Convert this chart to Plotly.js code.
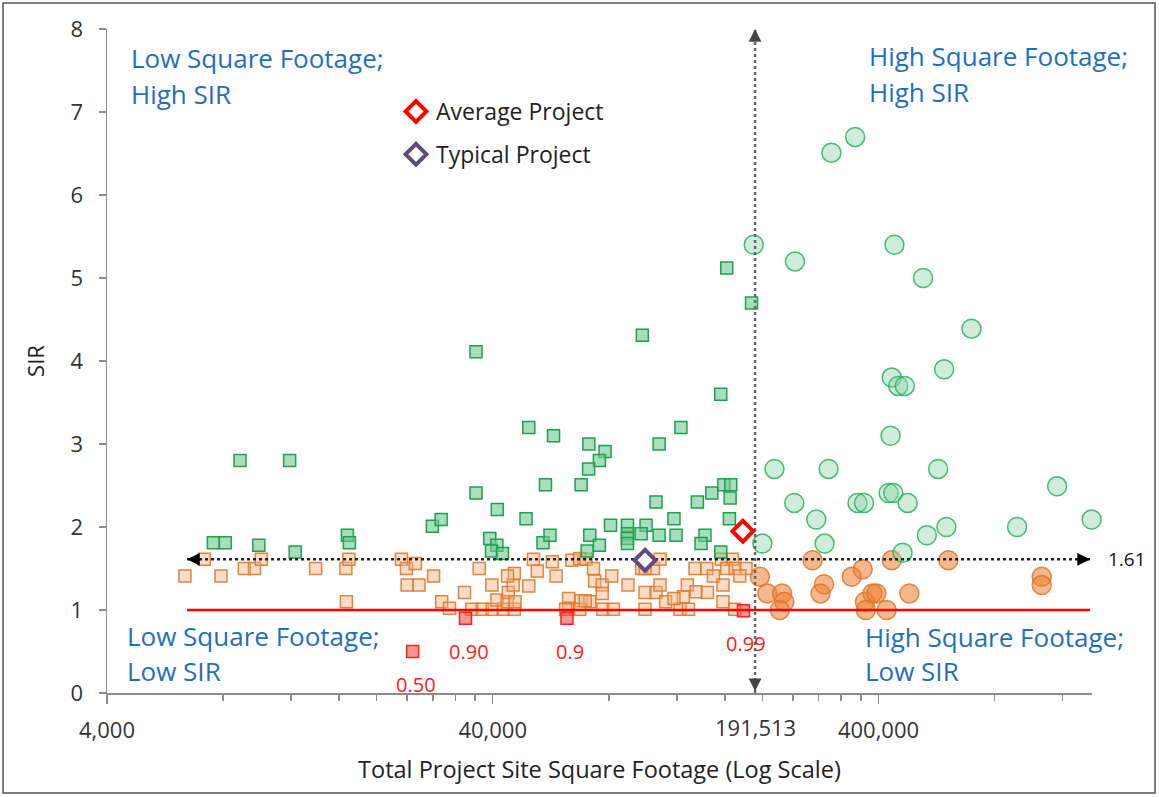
<!DOCTYPE html>
<html>
<head>
<meta charset="utf-8">
<script src="https://cdn.plot.ly/plotly-3.0.1.min.js"></script>
<style>
html,body{margin:0;padding:0;background:#fff;}
#chart{width:1159px;height:797px;}
</style>
</head>
<body>
<div id="chart"></div>
<script>
// ---------- DATA ----------
const sqftThreshold = 191513;   // vertical divider (sq ft)
const sirThreshold = 1.61;      // horizontal divider (SIR)
const sirBreakEven = 1.0;       // red line
const refLineExtent = [6450, 1415000];

// Low sq ft, high SIR (green squares)
const greenSqX = [8850, 11900, 7550, 8100, 9900, 12300, 16800, 17000, 27900, 29400,
  36200, 97700, 187500, 156000, 49600, 57500, 123000, 108000, 71000, 78200,
  75600, 70900, 36200, 54800, 67800, 41100, 48800, 39300, 41000, 39700,
  42400, 54000, 56300, 71400, 75600, 70300, 80800, 89400, 89400, 89400,
  89400, 99900, 97000, 108000, 106000, 118000, 119500, 135700, 147900, 159000,
  165600, 165000, 164300, 142000, 138700, 156000, 161700];
const greenSqY = [2.80, 2.80, 1.81, 1.81, 1.78, 1.70, 1.90, 1.81, 2.01, 2.09,
  4.11, 4.31, 4.70, 3.60, 3.20, 3.10, 3.20, 3.00, 3.00, 2.91,
  2.80, 2.70, 2.41, 2.51, 2.51, 2.21, 2.10, 1.86, 1.78, 1.71,
  1.68, 1.81, 1.90, 1.90, 1.78, 1.71, 2.02, 2.02, 1.92, 1.86,
  1.80, 2.02, 1.92, 1.90, 2.30, 2.10, 1.90, 2.30, 2.41, 2.51,
  2.51, 2.35, 2.10, 1.90, 1.80, 1.70, 5.12];

// Low sq ft, SIR between 1 and 1.61 (orange squares)
const orangeSqX = [6370, 7150, 7900, 9080, 9650, 10050, 13900, 16650, 16950, 16700,
  23200, 23900, 25200, 24000, 25750, 28100, 29500, 30900, 35300, 37600,
  39900, 42600, 45500, 33800, 36900, 39800, 41000, 43600, 43900, 45200,
  45500, 43700, 45700, 49600, 52200, 51000, 57100, 58400, 62900, 62900,
  64200, 67200, 69800, 67800, 71400, 67200, 73000, 73500, 76900, 76900,
  77200, 82200, 81400, 89700, 99300, 99300, 106000, 108600, 112300, 97300,
  104400, 108600, 124800, 127800, 134600, 122400, 128700, 133800, 143500, 149300,
  144100, 158100, 158100, 156500, 167200, 161700, 170000, 181400, 174800, 169600,
  69500, 61800, 99300, 118000];
const orangeSqY = [1.41, 1.61, 1.41, 1.50, 1.50, 1.61, 1.50, 1.50, 1.61, 1.10,
  1.61, 1.50, 1.56, 1.30, 1.30, 1.41, 1.10, 1.02, 1.01, 1.01,
  1.01, 1.01, 1.01, 1.21, 1.50, 1.30, 1.12, 1.10, 1.21, 1.30,
  1.44, 1.41, 1.10, 1.29, 1.47, 1.61, 1.58, 1.41, 1.14, 1.02,
  1.60, 1.62, 1.61, 1.11, 1.10, 1.01, 1.50, 1.35, 1.30, 1.20,
  1.01, 1.01, 1.41, 1.30, 1.01, 1.21, 1.21, 1.30, 1.10, 1.50,
  1.50, 1.61, 1.16, 1.30, 1.22, 1.01, 1.01, 1.50, 1.50, 1.41,
  1.21, 1.30, 1.10, 1.61, 1.61, 1.50, 1.50, 1.50, 1.41, 1.01,
  1.11, 1.01, 1.50, 1.14];

// SIR below 1 (red squares)
const redSqX = [24800, 34000, 62300, 178700];
const redSqY = [0.50, 0.90, 0.90, 0.99];
const redSqLabels = ['0.50', '0.90', '0.9', '0.99'];

// High sq ft, high SIR (green circles)
const greenCircX = [348000, 302000, 190000, 440000, 243000, 522000, 697000, 592000, 433000, 450000,
  468000, 430000, 215000, 297000, 571000, 1162000, 242000, 353000, 367000, 425000,
  437000, 476000, 276000, 600000, 915000, 1428000, 534000, 290000, 200000, 462000];
const greenCircY = [6.70, 6.51, 5.40, 5.40, 5.20, 5.00, 4.39, 3.90, 3.80, 3.70,
  3.70, 3.10, 2.70, 2.70, 2.70, 2.49, 2.29, 2.29, 2.29, 2.41,
  2.41, 2.29, 2.09, 2.00, 2.00, 2.09, 1.90, 1.80, 1.80, 1.69];

// High sq ft, lower SIR (orange circles)
const orangeCircX = [270000, 433000, 607000, 197000, 364000, 341000, 289000, 283000, 206000, 225000,
  228000, 222000, 369000, 386000, 395000, 371000, 420000, 481000, 1060000, 1060000];
const orangeCircY = [1.60, 1.60, 1.60, 1.40, 1.49, 1.40, 1.31, 1.20, 1.20, 1.20,
  1.10, 1.00, 1.10, 1.20, 1.20, 1.00, 1.00, 1.20, 1.40, 1.30];

// Reference projects
const averageProject = {x: 178000, y: 1.95};
const typicalProject = {x: 99300, y: 1.60};

// Axis ticks
const xTickVals = [4000, 40000, 400000];
const xTickText = ['4,000', '40,000', '400,000'];
const xMinorVals = [8000, 12000, 16000, 20000, 24000, 28000, 32000, 36000,
  80000, 120000, 160000, 200000, 240000, 280000, 320000, 360000, 800000, 1200000];
const xRange = [4000, 1431000];
const yRange = [0, 8];

// ---------- STYLE ----------
const FONT = 'Open Sans, Noto Sans, sans-serif';
const BLUE = '#1F6FC0';
const AXIS = '#8c8c8c';
const lg = v => Math.log10(v);

const baseMarkerTrace = {type: 'scatter', mode: 'markers', showlegend: false, hoverinfo: 'skip', cliponaxis: false};

const traces = [
  Object.assign({}, baseMarkerTrace, {
    x: orangeCircX, y: orangeCircY,
    marker: {symbol: 'circle', size: 19, color: 'rgba(237,125,49,0.55)', line: {color: 'rgba(222,118,40,0.85)', width: 1.5}}
  }),
  Object.assign({}, baseMarkerTrace, {
    x: greenCircX, y: greenCircY,
    marker: {symbol: 'circle', size: 19, color: 'rgba(140,212,166,0.42)', line: {color: 'rgba(40,178,92,0.85)', width: 1.5}}
  }),
  Object.assign({}, baseMarkerTrace, {
    x: orangeSqX, y: orangeSqY,
    marker: {symbol: 'square', size: 12, color: 'rgba(244,177,131,0.45)', line: {color: 'rgba(222,122,45,0.9)', width: 1.5}}
  }),
  Object.assign({}, baseMarkerTrace, {
    x: greenSqX, y: greenSqY,
    marker: {symbol: 'square', size: 12, color: 'rgba(110,200,142,0.6)', line: {color: '#1fa050', width: 1.5}}
  }),
  Object.assign({}, baseMarkerTrace, {
    x: redSqX, y: redSqY,
    marker: {symbol: 'square', size: 12, color: 'rgba(245,80,70,0.6)', line: {color: '#ff1f1f', width: 1.5}}
  }),
  // break-even line SIR = 1
  {type: 'scatter', mode: 'lines', showlegend: false, hoverinfo: 'skip',
   x: refLineExtent, y: [sirBreakEven, sirBreakEven], line: {color: '#ff0000', width: 2.5}},
  // horizontal dotted divider
  {type: 'scatter', mode: 'lines', showlegend: false, hoverinfo: 'skip',
   x: refLineExtent, y: [sirThreshold, sirThreshold], line: {color: '#222', width: 2.5, dash: 'dot'}},
  // vertical dotted divider
  {type: 'scatter', mode: 'lines', showlegend: false, hoverinfo: 'skip', cliponaxis: false,
   x: [sqftThreshold, sqftThreshold], y: yRange, line: {color: '#666', width: 2.5, dash: 'dot'}},
  {type: 'scatter', mode: 'markers', name: 'Average Project', legendgroup: 'a', hoverinfo: 'skip', cliponaxis: false,
   x: [averageProject.x], y: [averageProject.y],
   marker: {symbol: 'diamond', size: 16, color: '#ffffff', line: {color: '#ff0000', width: 4}}},
  {type: 'scatter', mode: 'markers', name: 'Typical Project', legendgroup: 'b', hoverinfo: 'skip', cliponaxis: false,
   x: [typicalProject.x], y: [typicalProject.y],
   marker: {symbol: 'diamond', size: 16, color: '#ffffff', line: {color: '#604a7b', width: 4}}}
];

// ---------- ANNOTATIONS ----------
const W = 1159, H = 797, L = 107, R = 67, T = 29, B = 104;
const pw = W - L - R, ph = H - T - B;
const px = v => (v - L) / pw;       // page px -> paper x
const py = v => (H - B - v) / ph;   // page px -> paper y

function quadLabel(text, x, y) {
  return {xref: 'paper', yref: 'paper', x: px(x), y: py(y), xanchor: 'left', yanchor: 'middle',
    text: text, showarrow: false, font: {family: FONT, size: 26, color: BLUE}};
}

const annotations = [
  quadLabel('Low Square Footage;', 129, 58),
  quadLabel('High SIR', 129, 94),
  quadLabel('High Square Footage;', 867, 56),
  quadLabel('High SIR', 867, 92),
  quadLabel('Low Square Footage;', 125, 636),
  quadLabel('Low SIR', 125, 671),
  quadLabel('High Square Footage;', 863, 637),
  quadLabel('Low SIR', 863, 671),
  // threshold labels
  {xref: 'x', yref: 'paper', x: lg(sqftThreshold), y: py(727), text: '191,513', showarrow: false,
   xanchor: 'center', yanchor: 'middle', font: {family: FONT, size: 22, color: '#333'}},
  {xref: 'paper', yref: 'y', x: px(1106), y: sirThreshold, text: '1.61', showarrow: false,
   xanchor: 'left', yanchor: 'middle', font: {family: FONT, size: 19, color: '#111'}},
  // arrowheads
  {xref: 'x', yref: 'y', axref: 'x', ayref: 'y', x: lg(refLineExtent[0]), y: sirThreshold,
   ax: lg(refLineExtent[0]) + 0.03, ay: sirThreshold, showarrow: true, arrowhead: 2, arrowsize: 1.6, arrowwidth: 1.6, arrowcolor: '#000', text: ''},
  {xref: 'x', yref: 'y', axref: 'x', ayref: 'y', x: lg(refLineExtent[1]), y: sirThreshold,
   ax: lg(refLineExtent[1]) - 0.03, ay: sirThreshold, showarrow: true, arrowhead: 2, arrowsize: 1.6, arrowwidth: 1.6, arrowcolor: '#000', text: ''},
  {xref: 'x', yref: 'y', axref: 'x', ayref: 'y', x: lg(sqftThreshold), y: yRange[1],
   ax: lg(sqftThreshold), ay: yRange[1] - 0.15, showarrow: true, arrowhead: 2, arrowsize: 1.6, arrowwidth: 1.6, arrowcolor: '#444', text: ''},
  {xref: 'x', yref: 'y', axref: 'x', ayref: 'y', x: lg(sqftThreshold), y: yRange[0] + 0.02,
   ax: lg(sqftThreshold), ay: yRange[0] + 0.17, showarrow: true, arrowhead: 2, arrowsize: 1.6, arrowwidth: 1.6, arrowcolor: '#444', text: ''}
];
redSqLabels.forEach((t, i) => {
  annotations.push({xref: 'x', yref: 'y', x: lg(redSqX[i]), y: redSqY[i], yshift: -33, xshift: 3,
    text: t, showarrow: false, font: {family: FONT, size: 20, color: '#ff1a1a'}});
});

const layout = {
  width: W, height: H, autosize: false,
  margin: {l: L, r: R, t: T, b: B, pad: 0},
  paper_bgcolor: '#fff', plot_bgcolor: '#fff',
  font: {family: FONT, color: '#333'},
  showlegend: true,
  legend: {x: px(396), y: py(90), xanchor: 'left', yanchor: 'top', bgcolor: 'rgba(0,0,0,0)',
    font: {family: FONT, size: 23, color: '#222'}, traceorder: 'grouped', tracegroupgap: 10},
  xaxis: {
    type: 'log', range: [lg(xRange[0]), lg(xRange[1])],
    tickmode: 'array', tickvals: xTickVals, ticktext: xTickText,
    ticks: 'outside', ticklen: 9, tickwidth: 1.5, tickcolor: AXIS,
    minor: {tickmode: 'array', tickvals: xMinorVals, ticks: 'outside', ticklen: 6, tickwidth: 1.5, tickcolor: AXIS, showgrid: false},
    showline: true, linecolor: AXIS, linewidth: 1.5, showgrid: false, zeroline: false,
    ticklabelstandoff: 8,
    tickfont: {family: FONT, size: 22, color: '#333'},
    title: {text: 'Total Project Site Square Footage (Log Scale)', font: {family: FONT, size: 23.5, color: '#222'}, standoff: 18}
  },
  yaxis: {
    range: yRange, tickmode: 'linear', tick0: 0, dtick: 1,
    ticks: 'outside', ticklen: 7, tickwidth: 1.5, tickcolor: AXIS,
    showline: true, linecolor: AXIS, linewidth: 1.5, showgrid: false, zeroline: false,
    ticklabelstandoff: 11,
    tickfont: {family: FONT, size: 22, color: '#333'},
    title: {text: 'SIR', font: {family: FONT, size: 22, color: '#222'}, standoff: 20}
  },
  annotations: annotations,
  shapes: [{type: 'rect', xref: 'paper', yref: 'paper', x0: px(3), x1: px(1155), y0: py(793), y1: py(3),
    line: {color: '#555', width: 1.5}, fillcolor: 'rgba(0,0,0,0)'}]
};

Plotly.newPlot('chart', traces, layout, {displayModeBar: false, staticPlot: true});
</script>
</body>
</html>
